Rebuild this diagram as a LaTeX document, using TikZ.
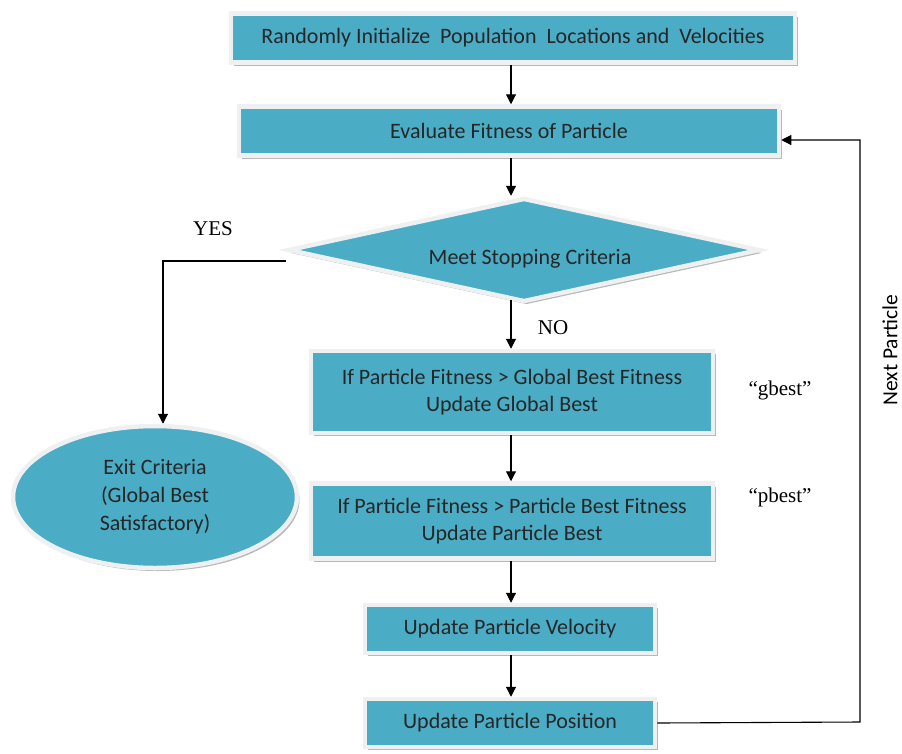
\documentclass[tikz,border=0pt]{standalone}
\usepackage{fontspec}
\setmainfont{Carlito}
\newfontfamily\serifft{Liberation Serif}
\usetikzlibrary{shapes.geometric,shadows,arrows.meta}
\definecolor{teal1}{HTML}{4BACC6}
\definecolor{frame1}{HTML}{EEF0F2}
\tikzset{
  box/.style={rectangle,fill=teal1,draw=frame1,line width=4.5pt,inner sep=0pt,
    drop shadow={shadow xshift=2.5pt,shadow yshift=-3pt,fill=black!35,opacity=0.8},
    font=\fontsize{22}{27}\selectfont,align=center,text=black!85},
  conn/.style={line width=1.1pt,black},
  arr/.style={conn,-{Triangle[length=10pt,width=10pt]}},
  lbl/.style={font=\serifft\fontsize{21}{24}\selectfont,inner sep=0pt}
}
\begin{document}
\begin{tikzpicture}[x=1pt,y=-1pt]
\useasboundingbox (0,0) rectangle (902,753);
\node[box,minimum width=564pt,minimum height=49pt] (b1) at (513,38) {Randomly Initialize\ \ Population\ \ Locations and\ \ Velocities};
\node[box,minimum width=540pt,minimum height=49pt] (b2) at (509,131) {Evaluate\ Fitness of Particle};
\node[diamond,aspect=4.54,fill=teal1,draw=frame1,line width=4.5pt,inner sep=0pt,
  minimum width=472pt,minimum height=104pt,
  drop shadow={shadow xshift=2.5pt,shadow yshift=-3pt,fill=black!35,opacity=0.8},
  font=\fontsize{22}{24}\selectfont,text=black!85] (d) at (524,250) {\raisebox{-14pt}[0pt][0pt]{\makebox[0pt]{\hspace{12pt}Meet Stopping Criteria}}};
\node[box,minimum width=402pt,minimum height=82pt] (b3) at (512,392) {If Particle Fitness > Global\ Best Fitness\\Update Global\ Best};
\node[box,minimum width=402pt,minimum height=75pt] (b4) at (512,521) {If Particle Fitness > Particle Best Fitness\\Update Particle Best};
\node[box,minimum width=290pt,minimum height=48pt] (b5) at (510,629) {Update Particle Velocity};
\node[box,minimum width=290pt,minimum height=48pt] (b6) at (510,723) {Update Particle Position};
\node[ellipse,fill=teal1,draw=frame1,line width=4.5pt,inner sep=0pt,
  minimum width=284pt,minimum height=142pt,
  drop shadow={shadow xshift=2.5pt,shadow yshift=-3pt,fill=black!35,opacity=0.8},
  font=\fontsize{22}{28}\selectfont,align=center,text=black!85] (e) at (155,497) {Exit Criteria\\(Global Best\\Satisfactory)};
\node[lbl] (yes) at (213,229) {YES};
\node[lbl] (no) at (553,328) {NO};
\node[lbl] (gb) at (780,390) {“gbest”};
\node[lbl] (pb) at (780,497) {“pbest”};
\node[font=\fontsize{21.5}{24}\selectfont,rotate=90,inner sep=0pt] (np) at (890,350) {Next Particle};
\coordinate (c1) at (163,261);
\coordinate (c2) at (860,722);
\coordinate (c3) at (860,140);
\draw[arr] (b1.south -| 511,0) -- (b2.north -| 511,0);
\draw[arr] (b2.south -| 511,0) -- (d.north -| 511,0);
\draw[arr] (511,300) -- (b3.north -| 511,0);
\draw[arr] (b3.south -| 511,0) -- (b4.north -| 511,0);
\draw[arr] (b4.south -| 511,0) -- (b5.north -| 511,0);
\draw[arr] (b5.south -| 511,0) -- (b6.north -| 511,0);
\draw[arr] (d.west |- c1) -- (c1) -- (e.north -| c1);
\draw[arr] (b6.east) -- (c2) -- (c3) -- (b2.east |- c3);
\end{tikzpicture}
\end{document}
